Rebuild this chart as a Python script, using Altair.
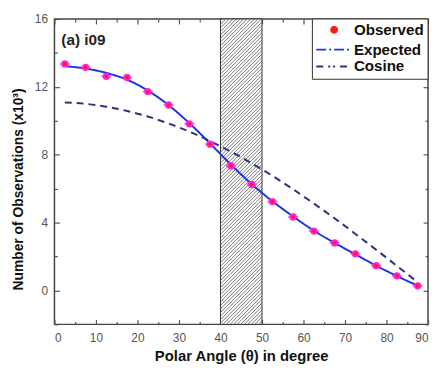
import altair as alt
import pandas as pd

# ---- data ----
theta = [2.5, 7.5, 12.5, 17.5, 22.5, 27.5, 32.5, 37.5, 42.5, 47.5,
         52.5, 57.5, 62.5, 67.5, 72.5, 77.5, 82.5, 87.5]
observed = [13.35, 13.15, 12.62, 12.55, 11.72, 10.93, 9.82, 8.62, 7.35, 6.25,
            5.24, 4.33, 3.5, 2.8, 2.16, 1.46, 0.86, 0.27]
expected = [13.22, 13.08, 12.82, 12.42, 11.78, 10.92, 9.86, 8.66, 7.42, 6.27,
            5.26, 4.36, 3.52, 2.8, 2.13, 1.46, 0.85, 0.28]
cosine = [11.08, 11.0, 10.83, 10.58, 10.25, 9.84, 9.36, 8.8, 8.18, 7.5,
          6.76, 5.96, 5.12, 4.25, 3.33, 2.4, 1.45, 0.48]
series_names = ["Observed", "Expected", "Cosine"]
series_colors = ["#ff1a1a", "#1f35e0", "#2c3380"]
hatch_range = [40, 50]
x_domain = [0, 90]
y_domain = [-2, 16]
x_labels = [0, 10, 20, 30, 40, 50, 60, 70, 80, 90]
y_labels = [0, 4, 8, 12, 16]

W, H = 378, 309

obs_df = pd.DataFrame({"theta": theta, "value": observed})
line_df = pd.concat([
    pd.DataFrame({"theta": theta, "value": expected, "series": "Expected"}),
    pd.DataFrame({"theta": theta, "value": cosine, "series": "Cosine"}),
])

# hatch segments inside the shaded band (computed in pixel space, mapped to data)
px_per_x = W / (x_domain[1] - x_domain[0])
px_per_y = H / (y_domain[1] - y_domain[0])
bw = (hatch_range[1] - hatch_range[0]) * px_per_x
segs = []
c = -bw
step = 3.6
while c < H:
    u0 = max(0.0, -c)
    u1 = min(bw, H - c)
    if u1 > u0:
        segs.append({
            "x1": hatch_range[0] + u0 / px_per_x,
            "x2": hatch_range[0] + u1 / px_per_x,
            "y1": y_domain[0] + (u0 + c) / px_per_y,
            "y2": y_domain[0] + (u1 + c) / px_per_y,
        })
    c += step
hatch_df = pd.DataFrame(segs)
band_df = pd.DataFrame({"x1": [hatch_range[0]], "x2": [hatch_range[1]],
                        "y1": [y_domain[0]], "y2": [y_domain[1]]})

xs = alt.Scale(domain=x_domain, nice=False, zero=False)
ys = alt.Scale(domain=y_domain, nice=False, zero=False)
FONT = "Liberation Sans"
AX = "#555555"

x_ticks5 = list(range(0, 91, 5))
y_ticks2 = list(range(-2, 17, 2))

xA = alt.Axis(values=x_labels, ticks=False, domain=False, grid=False, labelFont=FONT,
              labelFontSize=12, labelColor=AX, labelPadding=8, title="Polar Angle (θ) in degree",
              titleFont=FONT, titleFontSize=15, titleFontWeight="bold", titleColor="#111",
              titlePadding=6, orient="bottom")
yA = alt.Axis(values=y_labels, ticks=False, domain=False, grid=False, labelFont=FONT,
              labelFontSize=12, labelColor=AX, labelPadding=7,
              title="Number of Observations (x10³)", titleFont=FONT, titleFontSize=14,
              titleFontWeight="bold", titleColor="#111", titlePadding=9, orient="left",
              titleY=172)
xB = alt.Axis(values=x_ticks5, labels=False, domain=False, grid=False, title=None,
              orient="top", offset=-H, tickColor=AX, tickWidth=1.2,
              tickSize={"condition": {"test": "datum.value % 10 === 0", "value": 5}, "value": 3})
yB = alt.Axis(values=y_ticks2, labels=False, domain=False, grid=False, title=None,
              orient="right", offset=-W, tickColor=AX, tickWidth=1.2,
              tickSize={"condition": {"test": "datum.value % 4 === 0", "value": 5}, "value": 3})
xC = alt.Axis(values=x_ticks5, labels=False, domain=False, grid=False, title=None,
              orient="bottom", offset=-H, tickColor=AX, tickWidth=1.2,
              tickSize={"condition": {"test": "datum.value % 10 === 0", "value": 5}, "value": 3})
yC = alt.Axis(values=y_ticks2, labels=False, domain=False, grid=False, title=None,
              orient="left", offset=-W, tickColor=AX, tickWidth=1.2,
              tickSize={"condition": {"test": "datum.value % 4 === 0", "value": 5}, "value": 3})

band = alt.Chart(band_df).mark_rect(fill="white", stroke="#333", strokeWidth=1).encode(
    x=alt.X("x1:Q", scale=xs, axis=xA), x2="x2:Q",
    y=alt.Y("y1:Q", scale=ys, axis=yA), y2="y2:Q")

hatch = alt.Chart(hatch_df).mark_rule(color="#555", strokeWidth=0.8).encode(
    x=alt.X("x1:Q", scale=xs, axis=xB), x2="x2:Q",
    y=alt.Y("y1:Q", scale=ys, axis=yB), y2="y2:Q")

lines = alt.Chart(line_df).mark_line(strokeWidth=2, interpolate="monotone").encode(
    x=alt.X("theta:Q", scale=xs, axis=xC),
    y=alt.Y("value:Q", scale=ys, axis=yC),
    color=alt.Color("series:N", scale=alt.Scale(domain=series_names, range=series_colors), legend=None),
    strokeDash=alt.StrokeDash("series:N", scale=alt.Scale(domain=["Expected", "Cosine"],
                              range=[[1, 0], [7, 5]]), legend=None),
)

pts_err = alt.Chart(obs_df).mark_tick(color="#ff22dd", thickness=2, size=10, orient="horizontal").encode(
    x=alt.X("theta:Q", scale=xs, axis=None), y=alt.Y("value:Q", scale=ys, axis=None))
pts_outer = alt.Chart(obs_df).mark_point(filled=True, size=55, color="#ff22dd", opacity=1,
                                         shape="circle").encode(
    x=alt.X("theta:Q", scale=xs, axis=None), y=alt.Y("value:Q", scale=ys, axis=None))
pts_inner = alt.Chart(obs_df).mark_point(filled=True, size=12, color="#ff1a1a", opacity=1,
                                         shape="circle").encode(
    x=alt.X("theta:Q", scale=xs, axis=None), y=alt.Y("value:Q", scale=ys, axis=None))

# ---- legend (drawn by hand, inside plot, top right) ----
one = pd.DataFrame({"k": [0]})
leg_box = alt.Chart(one).mark_rect(fill="white", stroke="#333", strokeWidth=1).encode(
    x=alt.value(261), x2=alt.value(W), y=alt.value(0), y2=alt.value(61))
leg_dot = alt.Chart(one).mark_point(filled=True, size=60, color=series_colors[0], opacity=1,
                                    shape="circle").encode(x=alt.value(283), y=alt.value(11))
leg_exp = alt.Chart(one).mark_rule(color=series_colors[1], strokeWidth=2, strokeDash=[10, 3, 2, 3]).encode(
    x=alt.value(265), x2=alt.value(301), y=alt.value(31))
leg_cos = alt.Chart(one).mark_rule(color=series_colors[2], strokeWidth=2, strokeDash=[7, 5, 2, 3, 2, 5]).encode(
    x=alt.value(265), x2=alt.value(301), y=alt.value(48))
leg_txt = []
for name, yy in zip(series_names, [11, 31, 48]):
    leg_txt.append(alt.Chart(pd.DataFrame({"t": [name]})).mark_text(
        font=FONT, fontSize=15.3, fontWeight="bold", color="#111", align="left", baseline="middle"
    ).encode(text="t:N", x=alt.value(303), y=alt.value(yy)))

label = alt.Chart(pd.DataFrame({"t": ["(a) i09"]})).mark_text(
    font=FONT, fontSize=15.5, fontWeight="bold", color="#222", align="left", baseline="middle"
).encode(text="t:N", x=alt.value(7), y=alt.value(21))

chart = alt.layer(band, hatch, lines, pts_err, pts_outer, pts_inner, label,
                  leg_box, leg_dot, leg_exp, leg_cos, *leg_txt).resolve_axis(
    x="independent", y="independent"
).properties(
    width=W, height=H,
    autosize=alt.AutoSizeParams(type="none"),
    padding={"left": 47, "top": 9, "right": 2, "bottom": 40},
).configure_view(stroke="#444", strokeWidth=1.5)

chart.save("out.html", embed_options={"renderer": "svg", "actions": False})
